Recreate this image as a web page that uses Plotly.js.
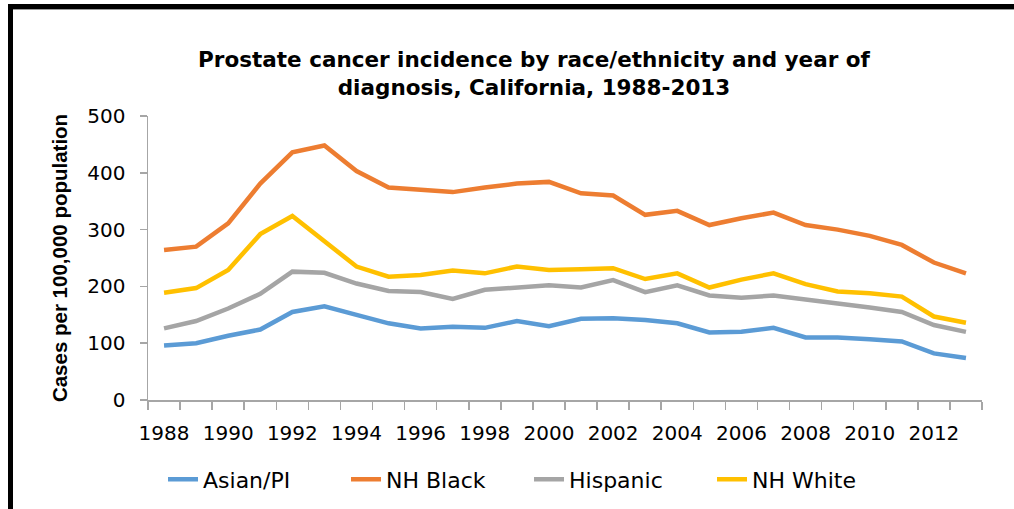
<!DOCTYPE html>
<html>
<head>
<meta charset="utf-8">
<script src="https://cdn.plot.ly/plotly-3.0.1.min.js"></script>
<style>
  html, body { margin: 0; padding: 0; background: #fff; }
  #wrap { position: relative; width: 1014px; height: 509px; overflow: hidden; }
  #chart { position: absolute; left: 0; top: 0; width: 1014px; height: 509px; }
  #frameTop { position: absolute; left: 8px; top: 4px; width: 1006px; height: 5px; background: #000; border-bottom: 1px solid #999; }
  #frameLeft { position: absolute; left: 8px; top: 4px; width: 5px; height: 505px; background: #000; }
</style>
</head>
<body>
<div id="wrap">
  <div id="chart"></div>
  <div id="frameTop"></div>
  <div id="frameLeft"></div>
</div>
<script>
const years = [1988,1989,1990,1991,1992,1993,1994,1995,1996,1997,1998,1999,2000,
               2001,2002,2003,2004,2005,2006,2007,2008,2009,2010,2011,2012,2013];
const asianPI = [96,100,113,124,155,165,150,135,126,129,127,139,130,
                 143,144,141,135,119,120,127,110,110,107,103,82,74];
const nhBlack = [264,270,311,381,436,448,403,374,370,366,374,381,384,
                 364,360,326,333,308,320,330,308,300,289,273,242,223];
const hispanic = [126,139,161,187,226,224,205,192,190,178,194,198,202,
                  198,211,190,202,184,180,184,176,170,163,155,132,120];
const nhWhite = [189,197,229,292,324,280,235,217,220,228,223,235,229,
                 230,232,213,223,198,212,223,204,191,188,182,147,136];
const tickYears = [1988,1990,1992,1994,1996,1998,2000,2002,2004,2006,2008,2010,2012];
const yTicks = [0,100,200,300,400,500];

const seriesNames = ['Asian/PI','NH Black','Hispanic','NH White'];
const seriesData = [asianPI, nhBlack, hispanic, nhWhite];
const seriesColors = ['#5B9BD5','#ED7D31','#A5A5A5','#FFC000'];

const boundaries = years.map(y => y - 0.5).concat([years[years.length-1] + 0.5]);

const traces = seriesNames.map((n, i) => ({
  x: years, y: seriesData[i], name: n, type: 'scatter', mode: 'lines',
  line: {color: seriesColors[i], width: 4.5}
}));

const layout = {
  width: 1014, height: 509,
  paper_bgcolor: '#fff', plot_bgcolor: '#fff',
  margin: {l: 148, r: 32, t: 116, b: 109, autoexpand: false},
  title: {
    text: 'Prostate cancer incidence by race/ethnicity and year of<br>diagnosis, California, 1988-2013',
    font: {family: 'DejaVu Sans', size: 21.5, color: '#000', weight: 'bold'},
    x: 534/1014, xanchor: 'center', xref: 'container',
    y: 1 - 67/509, yanchor: 'middle', yref: 'container'
  },
  font: {family: 'DejaVu Sans', color: '#000'},
  xaxis: {
    range: [1987.5, 2013.5], tickmode: 'array', tickvals: tickYears,
    ticktext: tickYears.map(String), ticks: '', showgrid: false, zeroline: false,
    showline: true, linecolor: '#A6A6A6', linewidth: 1.5,
    ticklabelstandoff: 14,
    tickfont: {family: 'DejaVu Sans', size: 20, color: '#000'},
    minor: {tickmode: 'array', tickvals: boundaries, ticks: 'outside', ticklen: 8, tickcolor: '#A6A6A6', tickwidth: 1.5, showgrid: false}
  },
  yaxis: {
    range: [0, 500], tickmode: 'array', tickvals: yTicks, ticks: 'outside', ticklen: 7,
    tickcolor: '#A6A6A6', tickwidth: 1.5, showgrid: false, zeroline: false,
    showline: true, linecolor: '#A6A6A6', linewidth: 1.5,
    ticklabelstandoff: 10,
    tickfont: {family: 'DejaVu Sans', size: 20, color: '#000'},
    title: {text: 'Cases per 100,000 population', font: {family: 'Liberation Sans', size: 20.5, color: '#000', weight: 'bold'}, standoff: 14}
  },
  showlegend: true,
  legend: {
    orientation: 'h', x: 0.018, xanchor: 'left', y: -0.28, yanchor: 'middle',
    font: {family: 'DejaVu Sans', size: 22, color: '#000'},
    entrywidth: 138, entrywidthmode: 'pixels', bgcolor: 'rgba(0,0,0,0)'
  }
};

Plotly.newPlot('chart', traces, layout, {displayModeBar: false, staticPlot: true});
</script>
</body>
</html>
